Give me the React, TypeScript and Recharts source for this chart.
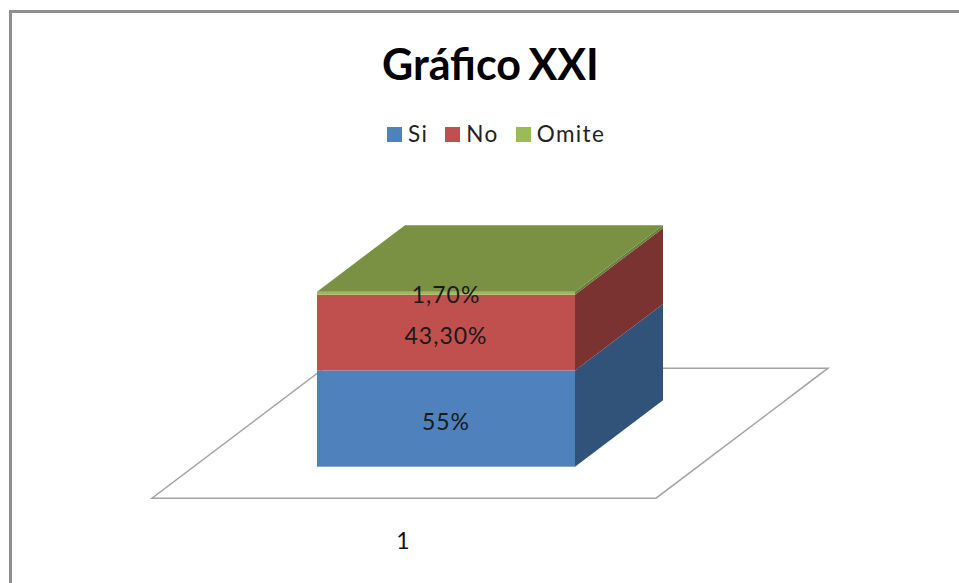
import React from "react";
import { BarChart, Bar, XAxis, YAxis, Legend, LabelList } from "recharts";

const categories = ["1"];
const siValues = [55];
const noValues = [43.3];
const omiteValues = [1.7];
const siLabels = ["55%"];
const noLabels = ["43,30%"];
const omiteLabels = ["1,70%"];

const data = categories.map((name, i) => ({
  name,
  si: siValues[i],
  no: noValues[i],
  omite: omiteValues[i],
  siLabel: siLabels[i],
  noLabel: noLabels[i],
  omiteLabel: omiteLabels[i],
}));

const DEPTH_X = 88;
const DEPTH_Y = 66.5;
const FONT = "Lato, 'Open Sans', sans-serif";

const Box = ({ x, y, width, height, fill, side, top, floor }: any) => {
  const right = x + width;
  const bottom = y + height;
  return (
    <g>
      {/* floor of the 3d plot sits under the first block */}
      {floor && (
        <polygon
          points={`${x - 165},${bottom + 31.5} ${right + 81},${bottom + 31.5} ${right + 253},${bottom - 98.5} ${x + 7},${bottom - 98.5}`}
          fill="#fff"
          stroke="#a3a3a3"
          strokeWidth={1.5}
        />
      )}
      <polygon
        points={`${right},${y} ${right + DEPTH_X},${y - DEPTH_Y} ${right + DEPTH_X},${bottom - DEPTH_Y} ${right},${bottom}`}
        fill={side}
      />
      <rect x={x} y={y} width={width} height={height} fill={fill} />
      {top && (
        <polygon
          points={`${x},${y} ${right},${y} ${right + DEPTH_X},${y - DEPTH_Y} ${x + DEPTH_X},${y - DEPTH_Y}`}
          fill={top}
        />
      )}
    </g>
  );
};

const LegendRow = ({ payload }: any) => (
  <div style={{ display: "flex", alignItems: "center", fontFamily: FONT, fontSize: 22.5, letterSpacing: 1.4, color: "#222", lineHeight: "30px" }}>
    {(payload || []).map((item: any) => (
      <span key={item.value} style={{ display: "flex", alignItems: "center", marginRight: 17 }}>
        <span style={{ width: 15, height: 15, background: item.color, marginRight: 6 }} />
        {item.value}
      </span>
    ))}
  </div>
);

const Tick1 = ({ x, y, payload }: any) => (
  <text x={x - 43} y={y + 74} textAnchor="middle" fontFamily={FONT} fontSize={23} fill="#111">
    {payload.value}
  </text>
);

const labelStyle = { fontFamily: FONT, fontSize: 23, letterSpacing: 1 };

const App = () => (
  <div style={{ position: "absolute", left: 0, top: 0, width: 959, height: 583, background: "#fff", overflow: "hidden" }}>
    <div style={{ position: "absolute", left: 9, top: 10, right: -5, bottom: -5, borderLeft: "3px solid #8f8f8f", borderTop: "3px solid #8f8f8f" }} />
    <div style={{ position: "absolute", left: 382, top: 36, fontFamily: FONT, fontWeight: 700, fontSize: 43, wordSpacing: -3, lineHeight: "56px", color: "#000", whiteSpace: "nowrap" }}>
      Gráfico XXI
    </div>
    <div style={{ position: "absolute", left: 0, top: 0 }}>
      <BarChart
        width={959}
        height={583}
        data={data}
        barCategoryGap={0}
        margin={{ top: 291.7, right: 384, bottom: 26.3, left: 317 }}
      >
        <XAxis dataKey="name" axisLine={false} tickLine={false} height={60} tick={<Tick1 />} />
        <YAxis hide domain={[0, 100]} />
        <Legend
          itemSorter={null}
          content={<LegendRow />}
          wrapperStyle={{ left: 387, top: 119, width: 300, bottom: "auto" }}
        />
        <Bar
          dataKey="si"
          name="Si"
          stackId="a"
          fill="#4f81bd"
          isAnimationActive={false}
          shape={(p: any) => <Box {...p} fill="#4f81bd" side="#325379" floor />}
        >
          <LabelList dataKey="siLabel" position="center" dy={3} fill="#1a1a1a" style={labelStyle} />
        </Bar>
        <Bar
          dataKey="no"
          name="No"
          stackId="a"
          fill="#c0504d"
          isAnimationActive={false}
          shape={(p: any) => <Box {...p} fill="#c0504d" side="#7a3331" />}
        >
          <LabelList dataKey="noLabel" position="center" dy={3} fill="#1a1a1a" style={labelStyle} />
        </Bar>
        <Bar
          dataKey="omite"
          name="Omite"
          stackId="a"
          fill="#9bbb59"
          isAnimationActive={false}
          shape={(p: any) => <Box {...p} fill="#9bbb59" side="#667f3a" top="#7a9143" />}
        >
          <LabelList dataKey="omiteLabel" position="center" dy={2} fill="#1a1a1a" style={labelStyle} />
        </Bar>
      </BarChart>
    </div>
  </div>
);

export default App;
